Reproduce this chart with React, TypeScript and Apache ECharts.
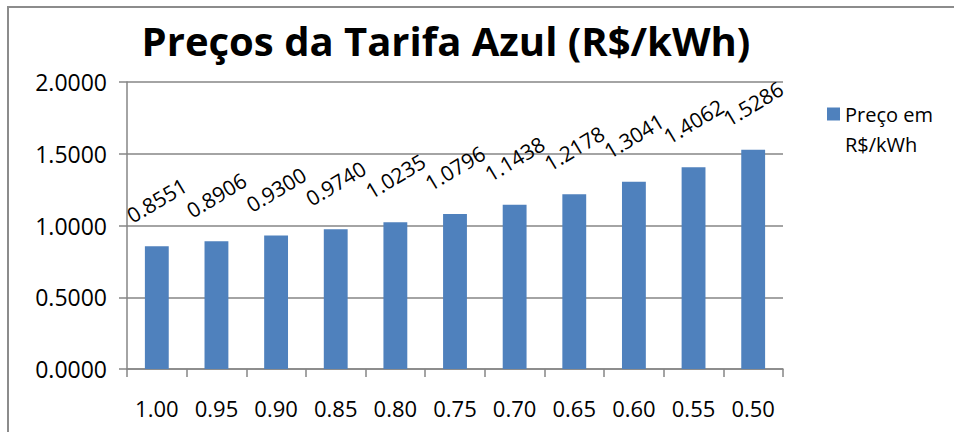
import React, { useEffect, useRef } from "react";
import * as echarts from "echarts";

const categories = ["1.00", "0.95", "0.90", "0.85", "0.80", "0.75", "0.70", "0.65", "0.60", "0.55", "0.50"];
const prices = [0.8551, 0.8906, 0.93, 0.974, 1.0235, 1.0796, 1.1438, 1.2178, 1.3041, 1.4062, 1.5286];
const seriesName = "Preço em\nR$/kWh";
const titleText = "Preços da Tarifa Azul (R$/kWh)";

export default function App() {
  const ref = useRef<HTMLDivElement>(null);
  useEffect(() => {
    if (!ref.current) return;
    const chart = echarts.init(ref.current, null, { renderer: "svg" });
    const font = "'Open Sans', 'Noto Sans', sans-serif";
    chart.setOption({
      animation: false,
      backgroundColor: "#ffffff",
      textStyle: { fontFamily: font, color: "#000" },
      title: {
        text: titleText,
        left: 441,
        top: 15,
        textAlign: "center",
        textStyle: { fontFamily: font, fontSize: 40, fontWeight: "bold", color: "#000" },
      },
      legend: {
        left: 822,
        top: 64,
        padding: 5,
        itemWidth: 13,
        itemHeight: 13,
        itemGap: 6,
        icon: "rect",
        formatter: (name: string) => "\n" + name,
        textStyle: { fontFamily: font, fontSize: 20, color: "#000", lineHeight: 30 },
        data: [seriesName],
      },
      graphic: [
        {
          type: "rect",
          shape: { x: 8, y: 7, width: 1000, height: 500 },
          style: { fill: "none", stroke: "#8c8c8c", lineWidth: 2 },
          silent: true,
        },
      ],
      grid: { left: 127, right: 171, top: 82, bottom: 63, containLabel: false },
      xAxis: {
        type: "category",
        data: categories,
        boundaryGap: true,
        axisLine: { show: true, lineStyle: { color: "#868686", width: 1.5 } },
        axisTick: { show: true, alignWithLabel: false, interval: 0, length: 8, lineStyle: { color: "#868686", width: 1.5 } },
        axisLabel: { fontFamily: font, fontSize: 22, color: "#000", margin: 28, interval: 0 },
        splitLine: { show: false },
      },
      yAxis: {
        type: "value",
        min: 0,
        max: 2,
        interval: 0.5,
        axisLine: { show: true, lineStyle: { color: "#868686", width: 1.5 } },
        axisTick: { show: true, length: 8, lineStyle: { color: "#868686", width: 1.5 } },
        axisLabel: {
          fontFamily: font,
          fontSize: 23,
          color: "#000",
          margin: 20,
          formatter: (v: number) => v.toFixed(4),
        },
        splitLine: { show: true, lineStyle: { color: "#868686", width: 1.5 } },
      },
      series: [
        {
          name: seriesName,
          type: "bar",
          data: prices,
          barWidth: "40%",
          itemStyle: { color: "#4F81BD" },
          label: {
            show: true,
            position: "top",
            distance: 46,
            rotate: 31,
            align: "center",
            verticalAlign: "middle",
            fontFamily: font,
            fontSize: 21,
            color: "#000",
            formatter: (p: any) => Number(p.value).toFixed(4),
          },
        },
      ],
    });
    return () => chart.dispose();
  }, []);
  return (
    <div
      ref={ref}
      style={{ position: "fixed", left: 0, top: 0, width: 954, height: 432, background: "#fff" }}
    />
  );
}
